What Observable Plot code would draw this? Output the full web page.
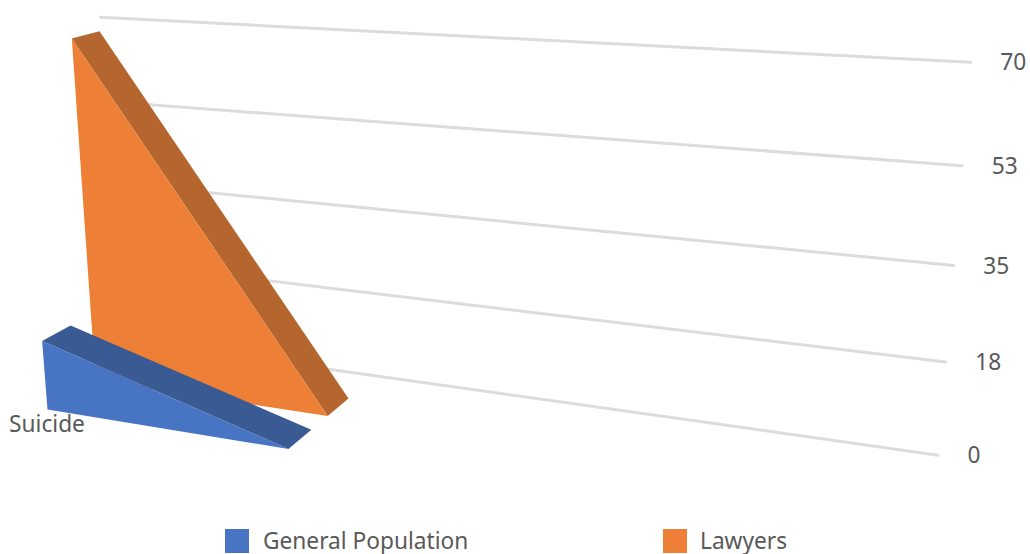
<!DOCTYPE html>
<html>
<head>
<meta charset="utf-8">
<script src="https://cdn.jsdelivr.net/npm/d3@7"></script>
<script src="https://cdn.jsdelivr.net/npm/@observablehq/plot@0.6"></script>
<style>
html,body{margin:0;padding:0;background:#fff;width:1030px;height:554px;overflow:hidden}
#chart{position:relative;width:1030px;height:554px}
#chart svg{display:block;position:absolute;left:0;top:0}
.leg{position:absolute;top:529px;height:24px;line-height:24px;font:22.7px "Noto Sans",sans-serif;color:#595959;white-space:nowrap}
.leg i{position:absolute;left:0;top:0;width:24px;height:24px}
.leg span{position:absolute;top:0;line-height:24px}
</style>
</head>
<body>
<div id="chart"></div>
<script>
// Data
const categories = ["Suicide"];
const seriesNames = ["General Population", "Lawyers"];
const seriesValues = [14, 69.4];
const tickValues = [0, 17.5, 35, 52.5, 70];
const tickLabels = ["0", "18", "35", "53", "70"];
const colors = ["#4874C4", "#ED8036"];
const topColors = ["#3A5A94", "#B5662E"];

// 3D camera: three vanishing points (category, depth, value axes)
const VX = [-3476, -168], VY = [1092, -226], VZ = [479, 5925], O = [47, 409];
const A = -0.064, B = 0.0275, C = -0.000877;
function project(X, Y, Z) {
  const w = 1 + A * X + B * Y + C * Z;
  return [0, 1].map(i => (O[i] + A * X * VX[i] + B * Y * VY[i] + C * Z * VZ[i]) / w);
}
const depthFront = [0, 1.75], depthSize = 1;
const wallDepth = 4.14, wallX = [-0.16, 3.09];

const P = (X, Y, Z, extra) => { const [px, py] = project(X, Y, Z); return {px, py, ...extra}; };

const gridRows = tickValues.flatMap((v, i) =>
  wallX.map(X => P(X, wallDepth, v, {tick: i})));

const tickRows = tickValues.map((v, i) => P(wallX[1], wallDepth, v, {label: tickLabels[i]}));

const faces = [];
seriesValues.forEach((v, s) => {
  const y0 = depthFront[s], y1 = y0 + depthSize;
  // top face, from the peak at the category down to zero
  [[0, y0, v], [0, y1, v], [1, y1, 0], [1, y0, 0]].forEach(p =>
    faces.push(P(...p, {face: `${s}-top`, s, color: topColors[s]})));
  // front face
  [[0, y0, v], [0, y0, 0], [1, y0, 0]].forEach(p =>
    faces.push(P(...p, {face: `${s}-front`, s, color: colors[s]})));
});
// painter's order: far series first
const drawFaces = [1, 0].flatMap(s => ["top", "front"].map(k => faces.filter(d => d.face === `${s}-${k}`)));

const catRow = [P(0, 0, 0, {label: categories[0]})];

const plot = Plot.plot({
  width: 1030,
  height: 554,
  margin: 0,
  x: {domain: [0, 1030], range: [0, 1030], axis: null},
  y: {domain: [0, 554], range: [0, 554], axis: null},
  style: {background: "transparent"},
  marks: [
    Plot.line(gridRows, {x: "px", y: "py", z: "tick", stroke: "#DCDCDC", strokeWidth: 3}),
    ...drawFaces.map(rows => Plot.line(rows, {x: "px", y: "py", fill: d => d.color, stroke: null, curve: "linear"})),
    Plot.text(tickRows, {x: "px", y: "py", text: "label", dx: 29.5, dy: 1, textAnchor: "start", fill: "#595959", fontSize: 22.7, fontFamily: "Noto Sans"}),
    Plot.text(catRow, {x: "px", y: "py", text: "label", dx: -0.5, dy: 15, fill: "#595959", fontSize: 22.7, fontFamily: "Noto Sans"})
  ]
});
const root = document.getElementById("chart");
root.appendChild(plot);
const legendX = [225, 663];
seriesNames.forEach((n, i) => {
  const d = document.createElement("div");
  d.className = "leg";
  d.style.left = legendX[i] + "px";
  d.innerHTML = `<i style="background:${colors[i]}"></i><span style="left:${i ? 37 : 38}px">${n}</span>`;
  root.appendChild(d);
});
</script>
</body>
</html>
